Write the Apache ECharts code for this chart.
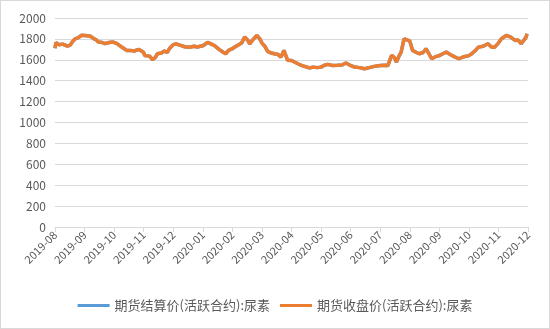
<!DOCTYPE html>
<html><head><meta charset="utf-8">
<script src="https://cdn.jsdelivr.net/npm/echarts@6/dist/echarts.min.js"></script>
<style>html,body{margin:0;padding:0;background:#fff}#c{width:550px;height:329px;box-sizing:border-box;border:1px solid #d9d9d9}</style>
</head><body><div id="c"></div>
<script>
var tickLabels = ['2019-08','2019-09','2019-10','2019-11','2019-12','2020-01','2020-02','2020-03','2020-04','2020-05','2020-06','2020-07','2020-08','2020-09','2020-10','2020-11','2020-12'];
var seriesNames = ['期货结算价(活跃合约):尿素','期货收盘价(活跃合约):尿素'];
var dates = [
'2019-08-01','2019-08-02','2019-08-05','2019-08-09','2019-08-14','2019-08-17','2019-08-19','2019-08-22','2019-08-25','2019-08-29',
'2019-09-04','2019-09-07','2019-09-10','2019-09-13','2019-09-15','2019-09-19','2019-09-22','2019-09-26','2019-09-30',
'2019-10-04','2019-10-09','2019-10-14','2019-10-18','2019-10-22','2019-10-27',
'2019-11-01','2019-11-02','2019-11-07','2019-11-10','2019-11-13','2019-11-15','2019-11-19','2019-11-22','2019-11-25','2019-11-27',
'2019-12-01','2019-12-04','2019-12-08','2019-12-13','2019-12-18','2019-12-23','2019-12-26',
'2020-01-01','2020-01-03','2020-01-06','2020-01-10','2020-01-13','2020-01-18','2020-01-22','2020-01-25','2020-01-28',
'2020-02-01','2020-02-03','2020-02-06','2020-02-10','2020-02-13','2020-02-16','2020-02-18','2020-02-21','2020-02-25','2020-02-28',
'2020-03-01','2020-03-04','2020-03-07','2020-03-11','2020-03-14','2020-03-18','2020-03-21','2020-03-24','2020-03-26','2020-03-28',
'2020-04-01','2020-04-04','2020-04-08','2020-04-11','2020-04-15','2020-04-19','2020-04-23','2020-04-27',
'2020-05-01','2020-05-04','2020-05-08','2020-05-13','2020-05-18','2020-05-23','2020-05-27',
'2020-06-01','2020-06-05','2020-06-10','2020-06-15','2020-06-20','2020-06-25',
'2020-07-01','2020-07-06','2020-07-09','2020-07-13','2020-07-16','2020-07-18','2020-07-21','2020-07-23','2020-07-26','2020-07-28',
'2020-08-01','2020-08-04','2020-08-08','2020-08-11','2020-08-15','2020-08-18','2020-08-21','2020-08-24','2020-08-28',
'2020-09-01','2020-09-05','2020-09-08','2020-09-12','2020-09-16','2020-09-21','2020-09-26',
'2020-10-01','2020-10-04','2020-10-08','2020-10-11','2020-10-16','2020-10-21','2020-10-25','2020-10-28',
'2020-11-01','2020-11-04','2020-11-09','2020-11-13','2020-11-18','2020-11-21','2020-11-24','2020-11-27','2020-11-29','2020-11-30'
];
var closePrice = [
1710,1765,1745,1750,1730,1740,1770,1800,1810,1835,
1830,1825,1805,1790,1770,1765,1755,1765,1770,
1755,1722,1690,1690,1684,1700,
1670,1642,1635,1600,1625,1658,1665,1684,1670,1706,
1745,1753,1740,1725,1720,1730,1722,
1735,1745,1766,1750,1737,1700,1675,1658,1690,
1706,1720,1737,1760,1817,1790,1753,1790,1833,1800,
1760,1730,1680,1665,1658,1650,1626,1690,1706,1595,
1594,1579,1560,1547,1535,1522,1530,1525,
1530,1545,1556,1545,1547,1550,1569,
1545,1531,1525,1515,1525,1537,
1545,1547,1545,1642,1620,1579,1640,1674,1801,1817,
1780,1690,1670,1658,1670,1706,1660,1610,1630,
1640,1660,1674,1650,1630,1610,1630,
1640,1658,1690,1721,1730,1753,1720,1721,
1760,1801,1833,1820,1785,1790,1753,1790,1817,1850
];
var settlePrice = closePrice.slice();

function monthIndex(s){
  var p = s.split('-').map(Number);
  var dim = new Date(p[0], p[1], 0).getDate();
  return (p[0]-2019)*12 + (p[1]-8) + (p[2]-1)/dim;
}
function pairs(vals){ return dates.map(function(d,i){ return [monthIndex(d), vals[i]]; }); }

var chart = echarts.init(document.getElementById('c'));
var font = '"Noto Sans CJK SC", sans-serif';
chart.setOption({
  animation:false,
  grid:{left:54,right:21,top:17,bottom:101},
  legend:{bottom:11,left:'center',itemWidth:32,itemHeight:3,itemGap:10,icon:'rect',
    textStyle:{color:'#595959',fontSize:13,fontFamily:font},
    data:seriesNames},
  xAxis:{type:'value',min:0,max:16,interval:1,
    axisLine:{lineStyle:{color:'#d9d9d9'}},
    axisTick:{show:true,length:5,lineStyle:{color:'#d9d9d9'}},
    splitLine:{show:false},
    axisLabel:{rotate:45,color:'#595959',fontSize:11,fontFamily:font,margin:6,
      formatter:function(v){return tickLabels[Math.round(v)]||'';}}},
  yAxis:{type:'value',min:0,max:2000,interval:200,
    axisLine:{show:false},axisTick:{show:false},
    splitLine:{lineStyle:{color:'#d9d9d9'}},
    axisLabel:{color:'#595959',fontSize:12,fontFamily:font,margin:9,
      formatter:function(v){return String(v);}}},
  series:[
    {name:seriesNames[0],type:'line',symbol:'none',data:pairs(settlePrice),
      lineStyle:{color:'#5B9BD5',width:3.5},itemStyle:{color:'#5B9BD5'}},
    {name:seriesNames[1],type:'line',symbol:'none',data:pairs(closePrice),
      lineStyle:{color:'#ED7D31',width:3.5},itemStyle:{color:'#ED7D31'}}
  ]
});
</script></body></html>
